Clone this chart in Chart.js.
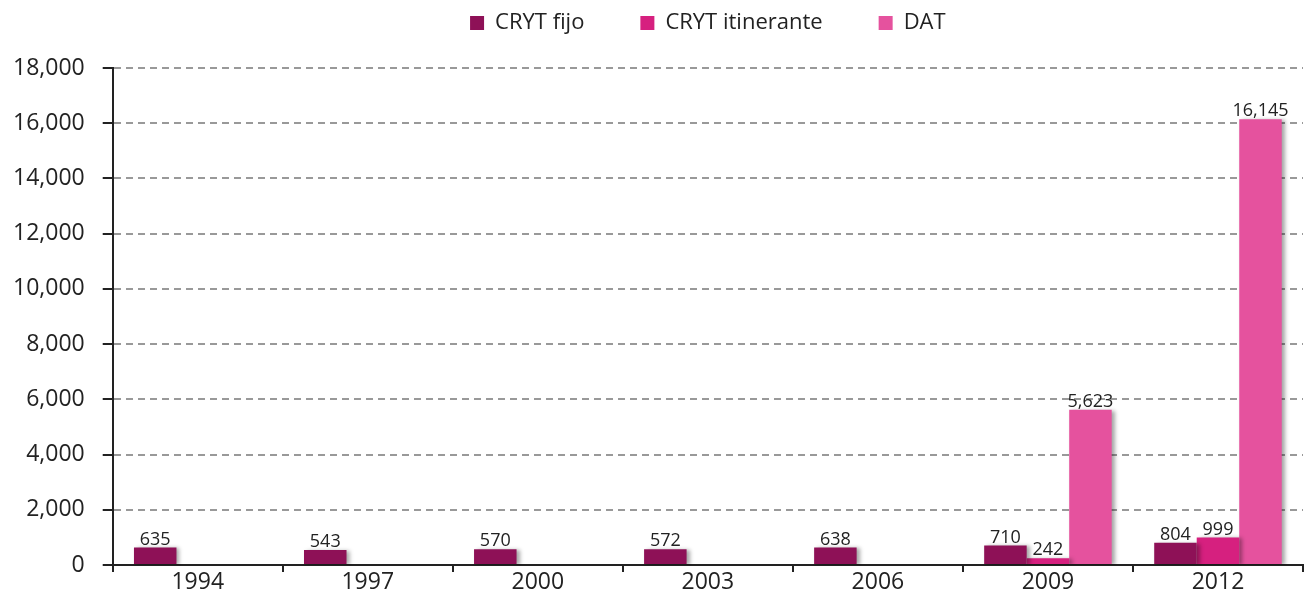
<!DOCTYPE html>
<html lang="es">
<head>
    <meta charset="UTF-8">
    <script src="https://cdn.jsdelivr.net/npm/chart.js"></script>
    <title>CRYT y DAT</title>
    <style>
        html, body { margin: 0; padding: 0; background: #fff; }
        #wrap { width: 1306px; height: 594px; }
    </style>
</head>
<body>
<div id="wrap"><canvas id="chart"></canvas></div>
<script>
    const years = ["1994", "1997", "2000", "2003", "2006", "2009", "2012"];
    const crytFijo = [635, 543, 570, 572, 638, 710, 804];
    const crytItinerante = [null, null, null, null, null, 242, 999];
    const dat = [null, null, null, null, null, 5623, 16145];
    const yTicks = [0, 2000, 4000, 6000, 8000, 10000, 12000, 14000, 16000, 18000];

    const fontFamily = "'Open Sans', 'Noto Sans', sans-serif";

    // more empty space under the legend
    const legendGap = {
        id: "legendGap",
        beforeInit(chart) {
            const fit = chart.legend.fit;
            chart.legend.fit = function () {
                fit.call(this);
                this.height += 24;
            };
        }
    };

    // little shadow behind the bars, like the original
    const barShadow = {
        id: "barShadow",
        beforeDatasetsDraw(chart) {
            const ctx = chart.ctx;
            ctx.save();
            ctx.shadowColor = "rgba(0,0,0,0.35)";
            ctx.shadowBlur = 4;
            ctx.shadowOffsetX = 3;
            ctx.shadowOffsetY = 1;
        },
        afterDatasetsDraw(chart) {
            chart.ctx.restore();
        }
    };

    // value labels on top of each bar
    const valueLabels = {
        id: "valueLabels",
        afterDatasetsDraw(chart) {
            const ctx = chart.ctx;
            ctx.save();
            ctx.font = "18px " + fontFamily;
            ctx.fillStyle = "#222";
            ctx.textAlign = "center";
            ctx.textBaseline = "bottom";
            chart.data.datasets.forEach((ds, i) => {
                const meta = chart.getDatasetMeta(i);
                meta.data.forEach((bar, j) => {
                    const v = ds.data[j];
                    if (v == null) return;
                    ctx.fillText(v.toLocaleString("en-US"), bar.x, bar.y + 1);
                });
            });
            ctx.restore();
        }
    };

    new Chart(document.getElementById("chart"), {
        type: "bar",
        data: {
            labels: years,
            datasets: [
                { label: "CRYT fijo", data: crytFijo, backgroundColor: "#8e1157" },
                { label: "CRYT itinerante", data: crytItinerante, backgroundColor: "#d6207f" },
                { label: "DAT", data: dat, backgroundColor: "#e5529e" }
            ]
        },
        options: {
            responsive: true,
            maintainAspectRatio: false,
            animation: false,
            layout: { padding: { top: 0, right: 3, bottom: 0, left: -5 } },
            datasets: {
                bar: { categoryPercentage: 0.75, barPercentage: 1.0, skipNull: false }
            },
            plugins: {
                legend: {
                    position: "top",
                    fullSize: false,
                    labels: {
                        boxWidth: 14,
                        boxHeight: 14,
                        padding: 12,
                        color: "#222",
                        font: { family: fontFamily, size: 22 },
                        generateLabels(chart) {
                            const items = Chart.defaults.plugins.legend.labels.generateLabels(chart);
                            // extra room between the entries
                            items.forEach((it, i) => {
                                if (i < items.length - 1) it.text += "\u2003\u2003";
                            });
                            return items;
                        }
                    }
                },
                tooltip: { enabled: false }
            },
            scales: {
                x: {
                    afterFit(scale) {
                        scale.height = 29;
                    },
                    grid: {
                        display: true,
                        offset: true,
                        drawOnChartArea: false,
                        drawTicks: true,
                        tickLength: 7,
                        color: "#222",
                        lineWidth: 2
                    },
                    border: { display: true, color: "#222", width: 2 },
                    ticks: {
                        color: "#222",
                        padding: -3,
                        font: { family: fontFamily, size: 23 }
                    }
                },
                y: {
                    min: 0,
                    max: 18000,
                    afterBuildTicks(axis) {
                        axis.ticks = yTicks.map(v => ({ value: v }));
                    },
                    afterFit(scale) {
                        // tick padding should not push the plot bottom up
                        scale.paddingBottom = 12;
                    },
                    grid: {
                        color: "#999",
                        lineWidth: 2,
                        tickLength: 10,
                        tickColor: "#222",
                        tickWidth: 2,
                        tickBorderDash: []
                    },
                    border: { display: true, color: "#222", width: 2, dash: [7, 5] },
                    ticks: {
                        color: "#222",
                        padding: 18,
                        font: { family: fontFamily, size: 23 },
                        callback: v => v.toLocaleString("en-US")
                    }
                }
            }
        },
        plugins: [legendGap, barShadow, valueLabels]
    });
</script>
</body>
</html>
